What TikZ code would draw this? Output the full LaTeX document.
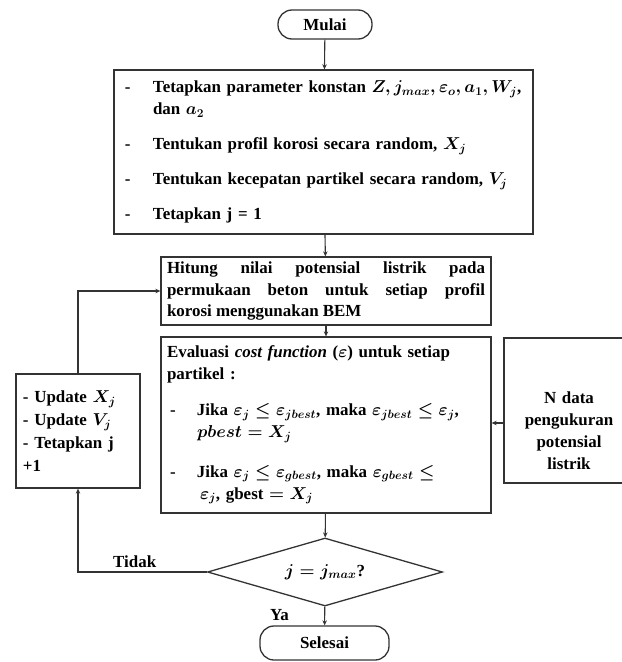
\documentclass[tikz,border=0pt]{standalone}
\usepackage{fontspec}
\setmainfont{Liberation Serif}
\usetikzlibrary{shapes.geometric, arrows.meta}

\begin{document}
\begin{tikzpicture}[x=1bp, y=-1bp,
        every node/.style={font=\fontsize{17}{22}\selectfont\bfseries},
        execute at begin node=\boldmath,
        box/.style={rectangle, draw=black!80, line width=1.3bp, inner ysep=0pt},
        term/.style={rectangle, rounded corners=14bp, draw=black!80, line width=1.3bp},
        cond/.style={diamond, aspect=3.45, draw=black!80, line width=1.3bp, inner sep=0pt},
        flow/.style={->, draw=black!80, line width=1.1bp},
        >={Stealth[length=5bp, width=4.5bp]}]

        \useasboundingbox (0, 0) rectangle (622, 662);

        % Define nodes (boxes)

        \node (mulai) at (325, 24.5) [term, minimum width=94bp, minimum height=29bp] {Mulai};

        \node (init) at (323.5, 152) [box, text width=397bp, inner xsep=11bp, minimum height=164bp, align=left] {\makebox[28bp][l]{-}Tetapkan parameter konstan $Z, j_{max}, \varepsilon_o, a_1, W_j$,\\
            \hspace*{28bp}dan $a_2$\\[13bp]
            \makebox[28bp][l]{-}Tentukan profil korosi secara random, $X_j$\\[13bp]
            \makebox[28bp][l]{-}Tentukan kecepatan partikel secara random, $V_j$\\[13bp]
            \makebox[28bp][l]{-}Tetapkan j = 1};

        \node (hitung) at (326, 291) [box, text width=318bp, inner xsep=6bp, minimum height=68bp, align=justify] {Hitung nilai potensial listrik pada\linebreak
            permukaan beton untuk setiap profil\linebreak
            korosi menggunakan BEM};

        \node (eval) at (326, 425) [box, text width=318bp, inner xsep=6bp, minimum height=176bp, align=left] {Evaluasi \textit{cost function} ($\varepsilon$) untuk setiap\\
            partikel :\\[14bp]
            \hspace*{3bp}\makebox[27bp][l]{-}Jika $\varepsilon_j \le \varepsilon_{jbest}$, maka $\varepsilon_{jbest} \le \varepsilon_j$,\\
            \hspace*{30bp}$pbest = X_j$\\[18bp]
            \hspace*{3bp}\makebox[27bp][l]{-}Jika $\varepsilon_j \le \varepsilon_{gbest}$, maka $\varepsilon_{gbest} \le$\\
            \hspace*{33bp}$\varepsilon_j$, gbest $= X_j$};

        \node (update) at (78, 431) [box, text width=110bp, inner xsep=7bp, minimum height=114bp, align=left] {- Update $X_j$\\[1bp]
            - Update $V_j$\\[1bp]
            - Tetapkan j\\[1bp]
            +1};

        \node (data) at (569, 410.5) [box, text width=116bp, inner xsep=7bp, minimum height=145bp, align=center] {\rule{0pt}{52bp}N data\\
            pengukuran\\
            potensial\\
            listrik};

        \node (cek) at (325, 572) [cond, minimum width=235bp, minimum height=68bp] {$j = j_{max}$?};

        \node (selesai) at (324.5, 643) [term, minimum width=129bp, minimum height=34bp] {Selesai};

        \coordinate (din) at ([yshift=-12.5bp]data.west);

        % Draw arrows between nodes

        \draw[flow] (mulai) -- (init);

        \draw[flow] (init) -- (hitung);

        \draw[flow] (hitung) -- (eval);

        \draw[flow] (eval) -- (cek);

        \draw[flow] (cek) -- (selesai) node[left=32bp, pos=0.45] {Ya};

        \draw[flow] (cek.west) -| (update.south) node[above, pos=0.28] {Tidak};

        \draw[flow] (update.north) |- (hitung.west);

        \draw[flow] (din) -- (din -| eval.east);

    \end{tikzpicture}
\end{document}
